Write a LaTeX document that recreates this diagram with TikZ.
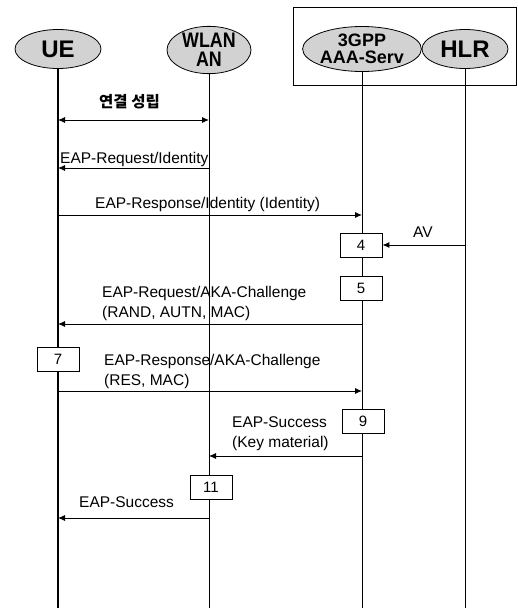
\documentclass[tikz,border=0pt]{standalone}
\usepackage{fontspec}
\setmainfont{Liberation Sans}
\newfontfamily\krfont{Noto Sans CJK KR}
\newfontfamily\hdnarrow[FakeStretch=0.85]{Liberation Sans}
\usetikzlibrary{arrows.meta,shapes.geometric}
\begin{document}
\begin{tikzpicture}[x=1pt,y=-1pt,
  actor/.style={ellipse, draw, fill=gray!35, inner sep=0pt, line width=0.8pt, align=center},
  stepbox/.style={draw, fill=white, minimum width=42pt, minimum height=24pt, inner sep=0pt,
    line width=0.8pt, font=\fontsize{15}{18}\selectfont},
  msg/.style={-{Latex[length=7pt,width=6pt]}, line width=0.9pt},
  lbl/.style={anchor=base west, inner sep=0pt, align=left, font=\fontsize{15.5}{20}\selectfont},
  life/.style={line width=0.9pt}]
\useasboundingbox (0,0) rectangle (518,608);
% group frame
\draw[line width=0.9pt] (293,7) rectangle (516,85);
% actors
\node[actor, minimum width=86pt, minimum height=39pt, font=\bfseries\fontsize{24}{24}\selectfont] (ue) at (58,49) {UE};
\node[actor, minimum width=84pt, minimum height=44pt, font=\hdnarrow\bfseries\fontsize{21}{19}\selectfont] (wlan) at (209,50) {WLAN\\AN};
\node[actor, minimum width=90pt, minimum height=45pt, font=\bfseries\fontsize{18}{17}\selectfont] (aaa) at (362,49) {3GPP\\AAA-Serv};
\node[actor, minimum width=86pt, minimum height=39pt, font=\bfseries\fontsize{24}{24}\selectfont] (hlr) at (465,49) {HLR};
% lifelines
\coordinate (ueend) at (ue |- 0,608);
\coordinate (wlanend) at (wlan |- 0,608);
\coordinate (aaaend) at (aaa |- 0,608);
\coordinate (hlrend) at (hlr |- 0,608);
\draw[life, line width=1.1pt] (ue) -- (ueend);
\draw[life] (wlan) -- (wlanend);
\draw[life] (aaa) -- (aaaend);
\draw[life] (hlr) -- (hlrend);
% step boxes
\node[stepbox] (b4) at (361,245) {4};
\node[stepbox] (b5) at (361,288) {5};
\node[stepbox] (b7) at (58,359) {7};
\node[stepbox] (b9) at (363,421) {9};
\node[stepbox] (b11) at (211,487) {11};
% messages
\draw[msg, {Latex[length=7pt,width=6pt]}-{Latex[length=7pt,width=6pt]}] (ue |- 0,120) -- (wlan |- 0,120);
\node[lbl, font=\krfont\bfseries\fontsize{15.5}{18}\selectfont] (t1) at (99,107) {연결 성립};
\draw[msg] (wlan |- 0,168) -- (ue |- 0,168);
\node[lbl] (t2) at (60,163) {EAP-Request/Identity};
\draw[msg] (ue |- 0,215) -- (aaa |- 0,215);
\node[lbl] (t3) at (95,208) {EAP-Response/Identity (Identity)};
\draw[msg] (hlr |- b4.east) -- (b4.east);
\node[lbl] (t4) at (413,237) {AV};
\draw[msg] (aaa |- 0,324) -- (ue |- 0,324);
\node[lbl] (t5) at (102,317) {EAP-Request/AKA-Challenge\\(RAND, AUTN, MAC)};
\draw[msg] (ue |- 0,391) -- (aaa |- 0,391);
\node[lbl] (t6) at (104,385) {EAP-Response/AKA-Challenge\\(RES, MAC)};
\draw[msg] (aaa |- 0,456) -- (wlan |- 0,456);
\node[lbl] (t7) at (232,447) {EAP-Success\\(Key material)};
\draw[msg] (wlan |- 0,518) -- (ue |- 0,518);
\node[lbl] (t8) at (79,507) {EAP-Success};
\end{tikzpicture}
\end{document}
